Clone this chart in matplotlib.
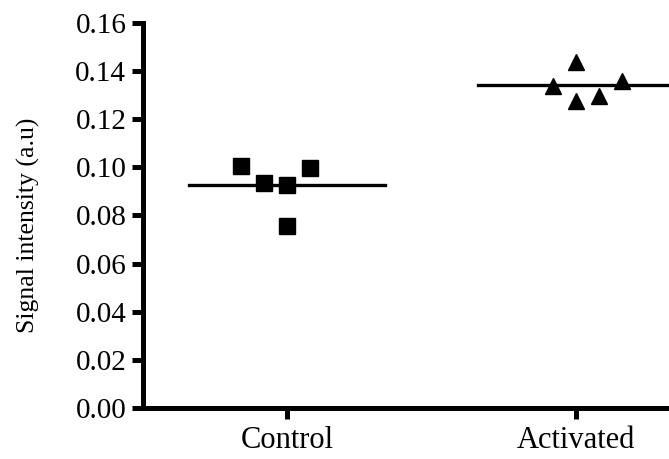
import matplotlib
matplotlib.use('Agg')
import matplotlib.pyplot as plt
import numpy as np

# data
groups = ['Control', 'Activated']
control_offset = [-0.16, -0.08, 0.0, 0.08, 0.0]
control_vals = [0.1006, 0.0936, 0.0926, 0.0997, 0.0756]
activated_offset = [-0.08, 0.0, 0.0, 0.08, 0.16]
activated_vals = [0.1338, 0.1436, 0.1276, 0.1295, 0.1357]
y_ticks = [0.00, 0.02, 0.04, 0.06, 0.08, 0.10, 0.12, 0.14, 0.16]

plt.rcParams['font.family'] = ['Liberation Serif', 'DejaVu Serif']

fig = plt.figure(figsize=(6.69, 4.59), dpi=100)
W, H = 669, 459
x0, x1 = 143, 143 + 2 * 288.5
yb, yt = 408, 22.7
ax = fig.add_axes([x0 / W, (H - yb) / H, (x1 - x0) / W, (yb - yt) / H])

lw = 3.6
for i, (offs, vals, mk) in enumerate([(control_offset, control_vals, 's'),
                                       (activated_offset, activated_vals, '^')]):
    xc = i + 1
    ax.plot([xc + o for o in offs], vals, linestyle='none', marker=mk,
            color='black', markersize=11.5 if mk == 's' else 12, clip_on=False, zorder=3)
    m = np.mean(vals)
    ax.plot([xc - 0.34, xc + 0.34], [m, m], color='black', lw=2.4, clip_on=False)

ax.set_xlim(0.5, 2.5)
ax.set_ylim(0, 0.16)
ax.set_xticks([1, 2])
ax.set_xticklabels(groups)
ax.set_yticks(y_ticks)
ax.set_yticklabels(['%.2f' % v for v in y_ticks])
for s in ['top', 'right']:
    ax.spines[s].set_visible(False)
for s in ['left', 'bottom']:
    ax.spines[s].set_linewidth(lw)
ax.spines['left'].set_capstyle('projecting')
ax.tick_params(axis='both', width=lw, length=8, color='black')
ax.tick_params(axis='y', labelsize=21, pad=4)
ax.tick_params(axis='x', labelsize=22, pad=5)
fig.text(28 / W, (H - 225) / H, 'Signal intensity (a.u)', rotation=90,
         ha='center', va='center', fontsize=18.5)

fig.savefig('out.png', dpi=100)
